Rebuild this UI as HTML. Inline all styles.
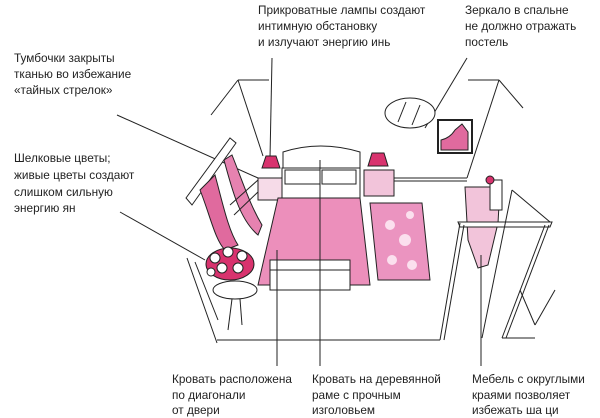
<!DOCTYPE html>
<html><head><meta charset="utf-8"><style>
html,body{margin:0;padding:0;background:#fff;width:600px;height:418px;overflow:hidden}
svg{display:block}
text{font-family:"Liberation Sans",sans-serif;font-size:11.8px;fill:#222}
</style></head><body>
<svg width="600" height="418" viewBox="0 0 600 418" xmlns="http://www.w3.org/2000/svg">
<g stroke="#222" stroke-width="1" fill="none">
<line x1="211" y1="115" x2="238" y2="80"/>
<line x1="238" y1="80" x2="269" y2="80"/>
<line x1="238" y1="80" x2="263" y2="156"/>
<line x1="272" y1="58" x2="270" y2="158"/>
<line x1="467" y1="58" x2="425" y2="128"/>
<line x1="468" y1="80" x2="499" y2="80"/>
<line x1="499" y1="80" x2="523" y2="108"/>
<line x1="499" y1="80" x2="467" y2="178"/>
<line x1="117" y1="115" x2="258" y2="178"/>
<line x1="120" y1="212" x2="205" y2="260"/>
<line x1="187" y1="258" x2="217" y2="343"/>
<line x1="195" y1="262" x2="218" y2="320"/>
<line x1="217" y1="340" x2="440" y2="340"/>
<line x1="393" y1="178" x2="467" y2="178"/>
<line x1="393" y1="181" x2="467" y2="181"/>
</g>
<g stroke="#222" stroke-width="1">
<polygon points="186,198 230,138 236,143 192,205" fill="#fff"/>
<path d="M200,190 C210,215 215,240 225,250 L238,245 C228,230 222,200 215,175 Z" fill="#e06a9e"/>
<path d="M224,160 C232,190 240,220 258,235 L262,225 C250,205 244,185 232,155 Z" fill="#e682b0"/>
<line x1="230" y1="205" x2="258" y2="180" />
<line x1="234" y1="215" x2="260" y2="190" />
</g>
<g stroke="#222" stroke-width="1">
<ellipse cx="235" cy="290" rx="22" ry="9" fill="#fff"/>
<line x1="232" y1="299" x2="228" y2="330"/>
<line x1="240" y1="299" x2="242" y2="325"/>
<ellipse cx="230" cy="264" rx="24" ry="16" fill="#d8336e"/>
<circle cx="215" cy="258" r="5" fill="#fff"/><circle cx="228" cy="252" r="5" fill="#fff"/>
<circle cx="242" cy="256" r="5" fill="#fff"/><circle cx="222" cy="268" r="5" fill="#fff"/>
<circle cx="238" cy="268" r="5" fill="#fff"/><circle cx="211" cy="272" r="4" fill="#fff"/>
</g>
<g stroke="#222" stroke-width="1">
<rect x="258" y="178" width="24" height="22" fill="#f6dbe8"/>
<path d="M262,168 L266,156 L276,156 L280,168 Z" fill="#d8336e"/>
<rect x="364" y="170" width="30" height="26" fill="#f2c4da"/>
<path d="M368,166 L372,153 L384,153 L388,166 Z" fill="#d8336e"/>
<path d="M283,168 L283,152 Q320,140 360,152 L360,168 Z" fill="#fff"/>
<rect x="282" y="168" width="78" height="30" fill="#fff"/>
<rect x="285" y="170" width="35" height="14" fill="#fff"/>
<rect x="322" y="170" width="34" height="14" fill="#fff"/>
<path d="M278,198 L360,198 L370,285 L258,285 Z" fill="#ec8fbb" stroke="#222"/>
<rect x="270" y="260" width="80" height="30" fill="#fff"/>
<line x1="270" y1="270" x2="350" y2="270"/>
<path d="M370,203 L422,203 L430,280 L378,280 Z" fill="#eb94c0"/>
<circle cx="390" cy="225" r="5" fill="#fbe0ee" stroke="none"/>
<circle cx="405" cy="240" r="6" fill="#fbe0ee" stroke="none"/>
<circle cx="392" cy="260" r="5" fill="#fbe0ee" stroke="none"/>
<circle cx="412" cy="265" r="5" fill="#fbe0ee" stroke="none"/>
<circle cx="410" cy="215" r="4" fill="#fbe0ee" stroke="none"/>
</g>
<line x1="320" y1="160" x2="320" y2="366" stroke="#222"/>
<line x1="277" y1="250" x2="277" y2="366" stroke="#222"/>
<g stroke="#222" stroke-width="1">
<ellipse cx="410" cy="113" rx="25" ry="15" fill="#fff"/>
<line x1="398" y1="122" x2="406" y2="102"/><line x1="412" y1="125" x2="420" y2="105"/>
<rect x="438" y="120" width="34" height="33" fill="#fff" stroke-width="2"/>
<path d="M441,150 L441,140 Q450,138 455,130 L462,124 L468,132 L468,150 Z" fill="#e06a9e"/>
</g>
<g stroke="#222" stroke-width="1">
<path d="M465,187 L500,187 L498,223 L488,265 L478,268 L468,240 Z" fill="#f2c4da"/>
<rect x="490" y="180" width="12" height="30" fill="#fff"/>
<circle cx="490" cy="180" r="4" fill="#d8336e"/>
<path d="M458,222 L552,222 L550,227 L460,227 Z" fill="#fff"/>
<line x1="460" y1="223" x2="440" y2="340"/><line x1="464" y1="225" x2="444" y2="340"/>
<line x1="545" y1="225" x2="502" y2="338"/><line x1="549" y1="225" x2="506" y2="338"/>
<line x1="512" y1="190" x2="550" y2="222"/><line x1="512" y1="190" x2="482" y2="338"/>
<line x1="502" y1="338" x2="535" y2="338"/>
<line x1="520" y1="290" x2="535" y2="325"/><line x1="535" y1="325" x2="555" y2="290"/>
</g>
<line x1="481" y1="255" x2="481" y2="366" stroke="#222"/>
<g style="font-size:11.6px">
<text x="258" y="14">Прикроватные лампы создают</text>
<text x="258" y="30">интимную обстановку</text>
<text x="258" y="46">и излучают энергию инь</text>
<text x="465" y="14">Зеркало в спальне</text>
<text x="465" y="30">не должно отражать</text>
<text x="465" y="46">постель</text>
<text x="14" y="62">Тумбочки закрыты</text>
<text x="14" y="78">тканью во избежание</text>
<text x="14" y="94">«тайных стрелок»</text>
<text x="14" y="162">Шелковые цветы;</text>
<text x="14" y="179">живые цветы создают</text>
<text x="14" y="196">слишком сильную</text>
<text x="14" y="212">энергию ян</text>
</g>
<text x="172" y="383">Кровать расположена</text>
<text x="172" y="399">по диагонали</text>
<text x="172" y="414">от двери</text>
<text x="312" y="383">Кровать на деревянной</text>
<text x="312" y="399">раме с прочным</text>
<text x="312" y="414">изголовьем</text>
<text x="472" y="383">Мебель с округлыми</text>
<text x="472" y="399">краями позволяет</text>
<text x="472" y="414">избежать ша ци</text>
</svg>
</body></html>
